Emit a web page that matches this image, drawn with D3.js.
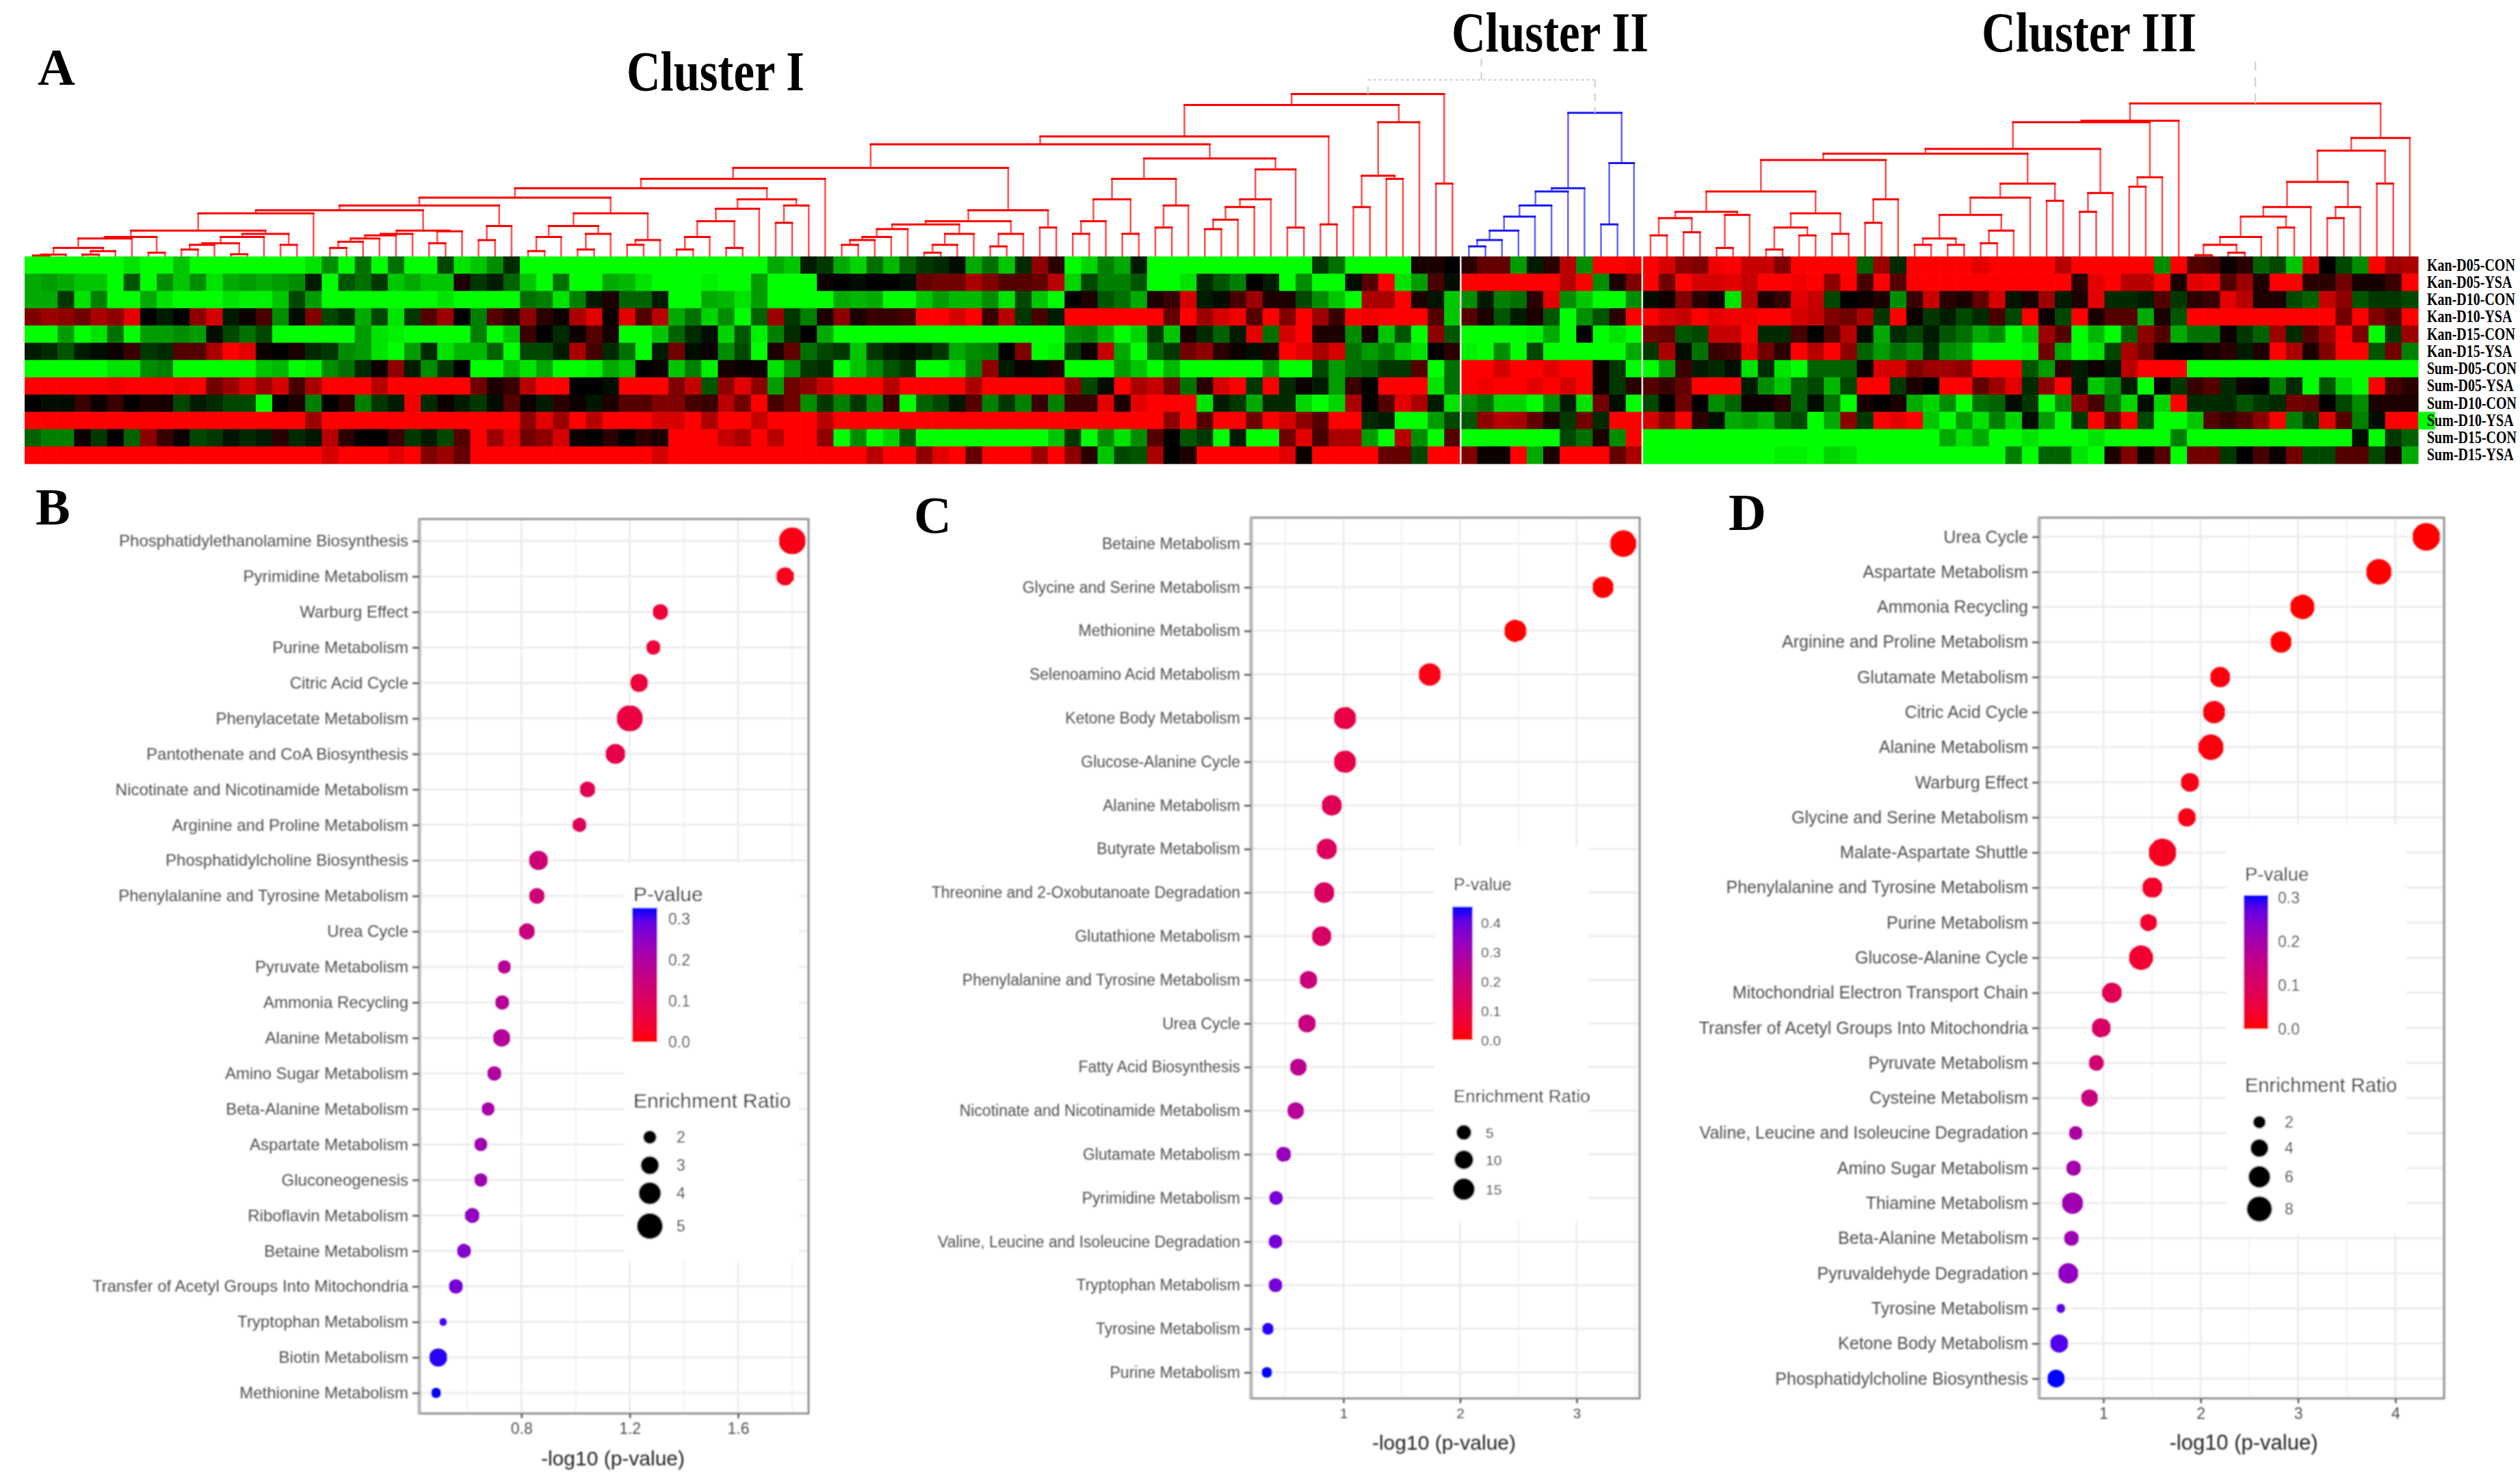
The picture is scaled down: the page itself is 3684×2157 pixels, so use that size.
<!DOCTYPE html>
<html><head><meta charset="utf-8">
<script src="https://cdnjs.cloudflare.com/ajax/libs/d3/7.8.5/d3.min.js"></script>
<style>html,body{margin:0;padding:0;background:#fff}svg{display:block}</style>
</head><body>
<script>
// ---------- heat map values (negative = green, positive = red)
const rowLabels=["Kan-D05-CON","Kan-D05-YSA","Kan-D10-CON","Kan-D10-YSA","Kan-D15-CON","Kan-D15-YSA","Sum-D05-CON","Sum-D05-YSA","Sum-D10-CON","Sum-D10-YSA","Sum-D15-CON","Sum-D15-YSA"];
const kanD05Con=[-9,-9,-9,-9,-9,-9,-8,-9,-9,-7,-9,-9,-9,-9,-9,-9,-9,-8,-5,-9,-4,-9,-4,-9,-9,-2.5,-8,-7,-5,-1.5,-9,-9,-9,-9,-9,-9,
-9,-9,-9,-9,-9,-9,-9,-9,-9,-6,-7,-1,-2,-6,-7.5,-4,-6.5,-3.5,-2,-1.5,-.5,-6,-4,-7,-1.5,5,1.5,-9,-7.5,-4.5,-6,-1,-9,-9,-9,-9,-9,-9,
-9,-9,-9,-9,-2,-4,-9,-9,-9,-9,.7,1,0,1.5,3.5,3.5,-5.5,-1,1.5,6.5,-5,9,9,8.5,9,7.5,5,4.5,8.5,9,7,7,4.5,9,9,9,9,
-3.5,5.5,-1.5,9,9,9,9,8,9,9,9,9,6.5,9,9,9,9,9,-5,9,3,2.5,.3,1.5,-3.5,-2.5,-7,8,0,-2.5,-5,9,5.5,6];
const kanD05Ysa=[-6,-5.5,-6,-7,-7,-9,-3,-9,-5,-7,-5,-8,-6,-5.5,-6,-5.5,-5,-1,-9,-3,-4,-2,-7,-6,-7,-7,1,-2,-1,-3.5,-7,-9,-4,-9,-9,-6,
-6.5,-8,-9,-9,-9,-8.5,-9,-9,-5.5,-9,-9,-9,.3,0,-.3,0,0,-.3,3.5,4,4,6,4.5,3,3,3.5,6.5,-7.5,-2.5,-4.5,-4.5,-3,-9,-9,-8,-1.5,-3,-4.5,
0,-1,-9,-5,-9,-9,-.3,3,9,-8,-5.5,2.5,-.5,9,9,9,9,9,9,6.5,9,-5,1,4.5,9,4,9,7.5,7.5,8,7,9,9,8.5,9,5,9,
2.5,9,3,9,9,9,9,9,9,9,9,9,9,1.5,8,9,6.5,6.5,9,1,8,8.5,3,5.5,1,9,9,1.5,1.5,4,.7,.7,2,9];
const kanD10Con=[-6,-6,-2,-8,-4.5,-9,-9,-6,-8,-9,-9,-9,-8,-8.5,-8.5,-7,-2.5,-5.5,-9,-9,-9,-9,-9,-9,-9,-8,-9,-9,-9,-9,-4,-4.5,-8,-4.5,-1,1,
-3.5,-3.5,-1,-9,-9,-6,-6.5,-8,-5.5,-9,-9,-9,-9,-6,-6.5,-6,-9,-9,-7,-5.5,-6.5,-6.5,-5,-8,-2.5,-7,-9,0,1,-3,-4,-6,1,2,7.5,-1,-.3,2.5,
5.5,1,1,-2.5,-5,-7,-9,6,6,9,1,-.7,-7,-5,-1,-4.5,-4,1.5,8,-5,-7,-9,-9,-5,-.5,.5,4.5,1.5,.5,-8,6.5,1,2,8,7,-2.5,0,
.5,1,-5,2,7,1.5,1,3.5,7.5,-.7,.7,5.5,-1,1,8,-1.5,-1.5,-1,3,-2,1.5,2,8,6.5,1,1,-2.5,-3.5,7,5,-3,-2,-2,-2.5];
const kanD10Ysa=[4.5,5.5,5,4,6,5,8,0,-1,0,5,7.5,-1,.5,2.5,-5,-.5,4.5,-2.5,-1.5,-6,-2.5,-8,-2,3,5.5,0,-4.5,3,1.5,5,1.5,.3,6,8,.5,
8,3,6.5,-6,-4,-7.5,-5,-9,-3.5,5.5,-2,-4.5,1,5,1,2,2,2.5,9,9,7.5,9,2,6.5,-2,2.5,-1,9,9,9,9,9,9,3.5,9,5.5,7.5,8.5,
3,9,4.5,9,5.5,2,9,8.5,9,9,9,3,-7,3,1,-3,-1,1,-3,-9,-5,-3,1.5,9,9,7.5,7,9,8,8.5,8.5,9,9,7.5,7,4.5,4,
6,-2,9,.3,-2,-1,-2.5,-1.5,2.5,-2.5,9,.5,-2.5,9,1,3,3,-6,1,-3,9,9,9,9,9,9,9,9,9,4,9,4.5,3,9];
const kanD15Con=[-9,-9,-5.5,-9,-8,-4,-9,-5.5,-5.5,-5,-5.5,-.5,-2.5,-4,-2.5,-9,-9,-9,-9,-9,-5.5,-8,-8.5,-9,-9,-9,-9,-4.5,-9,-7,2,-.2,-1.5,.5,3,.7,
-9,-9,-7,-3.5,-1.5,-.3,-7.5,-3,-8.5,-4.5,-1.5,0,-6,-9,-9,-9,-9,-9,-9,-9,-9,-9,-9,-9,-9,-9,-9,-5,-4.5,-6.5,-9,-7.5,-2,-7,.7,-1.5,-3.5,-1,
8,-4,7.5,9,1,1,-5,.7,-7,-3,-9,5,-3,-9,-9,-9,-9,-8.5,-6,-9,0,-9,-8,-9,4,3.5,-3,-2.5,7,7,9,-1.5,-1.5,2.5,0,3,6.5,
-.3,-6,-1.5,-2.5,-1,-3,-4,-6,-5,-9,-7,5.5,3,-9,-6.5,-9,-3.5,5,3,-6,-4,-4,.3,-2,-3.5,5.5,-1.5,3,5.5,9,4.5,-9,-2,5.5];
const kanD15Ysa=[-1,-1.5,-3,-1,-.5,.5,2,-2,-1.5,3,3,6,9,8,.5,0,1,-1.5,-2,-5,-5.5,-8,-9,-5.5,-1.5,-8,-6.5,-6.5,-3.5,-9,-2.5,-2.5,-1,6,2.5,-1.5,
-4,-9,-1,4,-.5,.3,-5,-2.5,-9,1,3.5,-4,-2.5,-2,-7,-2,-1,-.3,-1,-2,-6,-5,-4.5,0,4.5,-9,-8.5,-2,.3,7,-6,-9,-3.5,-2,4,5,1.5,.5,
-.3,1,9,8,6,7.5,-4,-5.5,-4.5,-7,-8,0,1.5,-8.5,-9,-5,-9,-2.5,-9,-9,-9,-9,-9,-6,-2,6,-.5,-4,2,2.5,8,4,1.5,9,6.5,9,5,
-3.5,-5.5,-4,-5,-1.5,-5,-5.5,-9,-9,-9,-8.5,4,-6,-9,-8,-2.5,6,4,.5,0,0,1,1.5,-1,1,9,6,1,4.5,9,9,-3,4,-4.5];
const sumD05Con=[-9,-9,-9,-9,-9,-8,-8,-5,-4.5,-9,-9,-9,-9,-9,-7,-6.5,-9,-8.5,-5,-4,-1.5,.5,5,-1,-5,-2,0,-9,-9,-6.5,-8,-6,-9,-9,-8.5,-6,
-7,.2,.5,-7,-4.5,-8.5,.7,.3,.5,-8,-5,-2,-1.5,-9,-7,-5,-3,-2,-9,-9,-8,-4.5,5,-1,.3,-.3,1,-9,-9,-9,-5.5,-7,-9,-6.5,-9,-9,-9,-9,
-9,-5.5,-9,-9,-2.5,-5.5,-4,-3.5,-2,-2,3,-9,-4,9,9,7.5,9,9,8,9,9,.5,-2,-9,-9,-5.5,2,-1,-1.5,-.5,-8,-1.5,-8,-9,-3.5,-3.5,-3.5,
.3,7.5,7.5,4.5,5.5,5.5,5,9,9,9,-3,-5.5,1.5,-1,.3,-.7,6.5,9,9,9,-9,-9,-9,-9,-9,-9,-9,-9,-9,-9,-9,-9,-9,-9];
const sumD05Ysa=[9,9,9,9,9,8.5,9,9,9,8.5,9,4,5.5,7.5,5.5,7.5,2.5,6,9,9,9,6.5,9,9,9,9,9,4,1,2,6.5,9,9,0,0,-.3,
9,9,9,4.5,7,-3,5,8,5,-5.5,4,5,7,9,9,9,6.5,9,9,9,9,6,9,9,9,9,9,5,-2.5,-.5,9,6,7,4,-4,1.5,7.5,9,
-2,9,-1.5,.3,-1,-5.5,2,0,9,9,9,-8,-4,9,8.5,9,9,8,9,7.5,9,.5,-2,1.5,3,2,3.5,9,9,9,-1,-5,-7,-3.5,-2.5,-6.5,-2.5,
9,9,-2,1,0,9,9,3.5,5.5,8,-1.5,5,9,-.7,-7,-5,-1,-9,0,-2,2,3,-1.5,.3,0,-4.5,-1.5,-9,-3,-7.5,-9,9,2.5,1.5];
const sumD10Con=[0,-.3,-.3,2,.5,2,0,1,.7,-2.5,-1,-1.5,-2.5,-2.5,-9,0,1,-4.5,0,1.5,-4.5,-2,-1,8.5,-1.5,.5,-1,-2,-.5,3,.5,-1,1.5,.5,-.7,1,
3,3,4.5,4.5,2.5,2,6.5,4,9,2.5,4,-5,-2,-4.5,-2,-5,2,-9,-3.5,-2.5,-.7,3,-4.5,-2,-4.5,2,-4.5,2,2,8,1,8,9,9,9,-8,-1,-2,
-6,-1.5,-1.5,-7.5,-9,-7.5,6,0,3,8,6,-1,-8,-5,-4,-7.5,-7.5,-9,-5,-1,-8,4,-.5,-9,-2.5,0,4,0,-5,-3.5,.5,.5,1.5,-3.5,-.5,-4,-9,
.7,0,.7,-6,-7.5,-5,-9,-4,-3.5,-.5,-2,-9,-5,5,2.5,-4,-7.5,-.5,-7.5,9,-1.5,-1.5,-1.5,-3,-2,-1.5,4,3.5,0,-2.5,-5,1,1,1];
const sumD10Ysa=[9,9,9,9,9,9,9,9,9,9,9,9,9,9,9,9,9,5.5,9,9,9,9,9,9,9,9,9,9,9,9,5,8,5.5,9,6.5,9,
9,9,7.5,7.5,9,6,9,9,7,9,9,9,6.5,9,9,9,9,9,9,9,9,9,9,9,9,9,9,9,9,9,9,9,9,5,9,3,9,9,4,
9,7.5,5,3,9,9,-1.5,-1,-9,-9,-5.5,-2.5,-3,5,6.5,6,3.5,1,-2,4,-1.5,9,9,7.5,5,9,1.5,-.5,-6,-5.5,-6.5,-3.5,-2.5,-9,-6,5,-2,
9,8,9,-7,-9,-5.5,-8,-4.5,-7.5,-.3,-5.5,-9,-2,9,3.5,9,-2.5,-9,-9,-7,3,2,3,5,9,-4.5,-2,8,3,-4.5,-.3,9,9,-9];
const sumD15Con=[-3.5,-4.5,-4.5,.5,-2,0,-3.5,5,2,.5,-2.5,-2,-.7,-1.5,-1,1.5,-1.5,-.7,6.5,1.5,0,0,2,-2,-1,-2.5,3,9,5.5,8,4,5,7.5,.5,0,1.5,
0,1.5,1,9,9,9,7,6,9,6.5,9,9,5,-9,-5,-9,-7.5,-3,-9,-9,-9,-9,-9,-9,-9,-9,-7,-2,-9,-5,-8,-5,3,0,-3,-2,-9,-1,
-9,-9,4,8,2.5,6,6,-5.5,-9,6.5,-5,-9,3,-9,-9,-9,-9,-9,-9,-2.5,-4,1,-5,9,-9,-9,-9,-9,-9,-9,-9,-9,-9,-9,-9,-9,-9,
-9,-9,-9,-9,-9,-6,-8,-6,-9,-9,-8,-9,-9,-9,-8,-9,-9,-9,-9,-4.5,-9,-9,-9,-9,-9,-9,-9,-9,-9,-9,-.3,-9,-2,-3.5];
const sumD15Ysa=[9,9,9,9,9,9,9,9,9,9,9,9,9,9,9,9,9,9,7.5,9,9,9,8,9,4.5,5.5,3.5,9,9,9,9,9,9,9,9,9,
9,9,7.5,9,9,9,9,9,9,9,9,9,9,9,9,6.5,9,9,5,8,9,3.5,9,9,9,5.5,9,5,1.5,-7,-2.5,-3,6,0,1,9,9,9,
9,9,8,.3,9,9,9,9,3.5,3.5,-2.5,9,9,4.5,.5,.5,9,-6,1,9,9,9,3.5,6,-9,-9,-9,-9,-9,-9,-9,-9,-8.5,-8.5,-9,-7.5,-8,
-9,-9,-9,-9,-9,-9,-9,-9,-9,-4.5,-9,-3.5,-3.5,-8,-9,1,4.5,.3,3,-9,4,4,-2,0,2.5,.3,4,-2.5,-2.5,3,3,-2.5,1,-6];
const heatRows=[kanD05Con,kanD05Ysa,kanD10Con,kanD10Ysa,kanD15Con,kanD15Ysa,sumD05Con,sumD05Ysa,sumD10Con,sumD10Ysa,sumD15Con,sumD15Ysa];

// ---------- dendrograms: [merge level, left, right]; a plain number is a leaf (column index)
const clusterI=[297,[332,[432,[457,[532,[567,[597,[627,[652,[667,[677,[732,[752,[757,[787,[808,[811,0,1],2],[797,[808,3,4],5]],6],[802,7,8]],[742,[752,[772,[777,[792,9,10],11],[807,12,13]],14],[777,15,16]]],17],[732,[742,[747,[757,[767,[787,18,19],20],21],22],23],[734,[772,24,25],26]]],[717,[762,27,28],29]],[677,[717,[752,[797,30,31],32],[742,[792,33,34],35]],[762,[777,36,37],38]]],[632,[662,[702,[752,[792,39,40],41],[787,42,43]],44],[652,[707,45,46],47]]],48],[667,[702,[712,[727,[752,[762,[777,49,50],51],52],53],[742,[777,[802,54,55],56],57]],[742,[782,58,59],60]],[722,61,62]]],[502,[567,[632,[702,[742,63,64],65],[742,66,67]],[652,[722,68,69],70]],[537,[632,[657,[697,[727,71,72],73],74],75],[722,76,77]]]],[712,78,79]],[387,[557,[657,80,81],[567,82,83]],84]],[582,85,86]];
const clusterII=[357,[597,[607,[652,[687,[732,[762,[782,87,88],89],90],91],92],93],94],[517,[712,95,96],97]];
const clusterIII=[327,[382,[387,[472,[487,[507,[607,[672,[692,[747,98,99],[737,100,101]],[682,[787,102,103],104]],[677,[722,[792,105,106],[747,107,108]],[742,109,110]]],[632,[707,111,112],113]],[582,[627,[682,[757,[777,114,115],[777,116,117]],[732,[772,118,119],120]],121],[637,122,123]]],[612,[672,124,125],126]],[562,[592,127,128],129]],130],[437,[477,[577,[657,[687,[752,[777,[810,131,132],[802,133,134]],135],[722,136,137]],138],[657,[692,139,140],141]],[582,142,143]],144]];

// ---------- panel B
const bNames=["Phosphatidylethanolamine Biosynthesis","Pyrimidine Metabolism","Warburg Effect","Purine Metabolism","Citric Acid Cycle","Phenylacetate Metabolism","Pantothenate and CoA Biosynthesis","Nicotinate and Nicotinamide Metabolism","Arginine and Proline Metabolism","Phosphatidylcholine Biosynthesis","Phenylalanine and Tyrosine Metabolism","Urea Cycle","Pyruvate Metabolism","Ammonia Recycling","Alanine Metabolism","Amino Sugar Metabolism","Beta-Alanine Metabolism","Aspartate Metabolism","Gluconeogenesis","Riboflavin Metabolism","Betaine Metabolism","Transfer of Acetyl Groups Into Mitochondria","Tryptophan Metabolism","Biotin Metabolism","Methionine Metabolism"];
const bLogP=[1.80,1.774,1.313,1.287,1.234,1.2,1.147,1.044,1.014,.863,.857,.82,.737,.729,.727,.70,.677,.65,.65,.618,.588,.558,.511,.493,.485];
const bRatio=[5.26,2.96,2.45,2.2,2.96,5.07,3.39,2.45,2.2,3.24,2.45,2.55,2,2.2,2.83,2.2,2,2,2,2.3,2.2,2.2,1.1,2.96,1.45];
// ---------- panel C
const cNames=["Betaine Metabolism","Glycine and Serine Metabolism","Methionine Metabolism","Selenoamino Acid Metabolism","Ketone Body Metabolism","Glucose-Alanine Cycle","Alanine Metabolism","Butyrate Metabolism","Threonine and 2-Oxobutanoate Degradation","Glutathione Metabolism","Phenylalanine and Tyrosine Metabolism","Urea Cycle","Fatty Acid Biosynthesis","Nicotinate and Nicotinamide Metabolism","Glutamate Metabolism","Pyrimidine Metabolism","Valine, Leucine and Isoleucine Degradation","Tryptophan Metabolism","Tyrosine Metabolism","Purine Metabolism"];
const cLogP=[3.40,3.226,2.474,1.74,1.013,1.013,.90,.857,.835,.813,.70,.687,.613,.59,.487,.422,.417,.417,.352,.343];
const cRatio=[25,14.1,15.9,15.9,15.9,15.9,12.6,12.6,12.6,11.2,8.4,8.4,7.1,7.1,5,3.9,3.9,3.9,2.1,1.4];
// ---------- panel D
const dNames=["Urea Cycle","Aspartate Metabolism","Ammonia Recycling","Arginine and Proline Metabolism","Glutamate Metabolism","Citric Acid Cycle","Alanine Metabolism","Warburg Effect","Glycine and Serine Metabolism","Malate-Aspartate Shuttle","Phenylalanine and Tyrosine Metabolism","Purine Metabolism","Glucose-Alanine Cycle","Mitochondrial Electron Transport Chain","Transfer of Acetyl Groups Into Mitochondria","Pyruvate Metabolism","Cysteine Metabolism","Valine, Leucine and Isoleucine Degradation","Amino Sugar Metabolism","Thiamine Metabolism","Beta-Alanine Metabolism","Pyruvaldehyde Degradation","Tyrosine Metabolism","Ketone Body Metabolism","Phosphatidylcholine Biosynthesis"];
const dLogP=[4.317,3.83,3.044,2.825,2.2,2.137,2.104,1.89,1.858,1.607,1.503,1.464,1.388,1.087,.978,.929,.858,.716,.694,.683,.672,.639,.563,.546,.514];
const dRatio=[9.55,8.14,7.48,5.65,5.1,6.23,8.14,4.33,4.08,9.55,5.1,3.62,7.48,5.1,4.58,2.97,3.62,2.39,2.77,5.65,2.77,5.1,1.02,4.08,3.85];

const W=3684,H=2157;
const svg=d3.select("body").append("svg").attr("width",W).attr("height",H).attr("viewBox",`0 0 ${W} ${H}`);
svg.append("rect").attr("width",W).attr("height",H).attr("fill","#fff");
const defs=svg.append("defs");
[["soft",0.9],["softer",1.3],["hm",0.5]].forEach(([id,s])=>defs.append("filter").attr("id",id).attr("x","-5%").attr("y","-5%").attr("width","110%").attr("height","110%").append("feGaussianBlur").attr("stdDeviation",s));

// ---------- heat map
const nCols=145;
const hx=d3.scaleLinear().domain([0,nCols]).range([36,3535]);
const hy=d3.scaleBand().domain(rowLabels).range([375,678]);
const hc=d3.scaleLinear().domain([-9,0,9]).range(["#00ff00","#000000","#ff0000"]).clamp(true);
const gHeat=svg.append("g").attr("filter","url(#hm)");
rowLabels.forEach((lab,r)=>{
  gHeat.append("g").selectAll("rect").data(heatRows[r]).join("rect")
   .attr("x",(d,i)=>hx(i)).attr("y",hy(lab)).attr("width",(d,i)=>hx(i+1)-hx(i)+.6).attr("height",hy.bandwidth()+.6).attr("fill",d=>hc(d));
});
const clusterStarts=[87,98];
svg.append("g").selectAll("line").data(clusterStarts).join("line")
 .attr("x1",d=>hx(d)).attr("x2",d=>hx(d)).attr("y1",375).attr("y2",678).attr("stroke","#f0f0f0").attr("stroke-width",2.5);
// row labels: a condensed-looking serif, stretched vertically as in the reference
svg.append("g").selectAll("text").data(rowLabels).join("text")
 .attr("transform",d=>`translate(3548,${hy(d)+hy.bandwidth()/2+8}) scale(1,1.22)`).text(d=>d)
 .attr("font-family","Liberation Serif").attr("font-weight","bold").attr("font-size",20).attr("fill","#000");

// ---------- dendrograms
const dy=d3.scaleLinear().domain([814,0]).range([375,1]);
const leafX=i=>hx(i+.5);
function layout(n){ if(typeof n==="number") return {x:leafX(n),lvl:814};
  const a=layout(n[1]),b=layout(n[2]); return {x:(a.x+b.x)/2,lvl:n[0],a,b}; }
function collect(n,out){ if(!n.a) return out; out.h.push([n.a.x,n.b.x,n.lvl]); out.v.push([n.a.x,n.lvl,n.a.lvl],[n.b.x,n.lvl,n.b.lvl]); collect(n.a,out); collect(n.b,out); return out; }
function drawTree(root,col,light){
  const o=collect(root,{h:[],v:[]});
  const g=svg.append("g");
  g.selectAll(".v").data(o.v).join("line").attr("x1",d=>d[0]).attr("x2",d=>d[0]).attr("y1",d=>dy(d[1])).attr("y2",d=>dy(d[2])).attr("stroke",light).attr("stroke-width",2.6);
  g.selectAll(".h").data(o.h).join("line").attr("x1",d=>d[0]-1.3).attr("x2",d=>d[1]+1.3).attr("y1",d=>dy(d[2])).attr("y2",d=>dy(d[2])).attr("stroke",col).attr("stroke-width",3);
}
const rI=layout(clusterI),rII=layout(clusterII),rIII=layout(clusterIII);
drawTree(rI,"#ff0000","#ff5555");drawTree(rII,"#1a1aff","#6a6aff");drawTree(rIII,"#ff0000","#ff5555");
// dashed connectors
const bridgeLevel=252,stemTopII=185,stemTopIII=195;
const midII=(rI.x+rII.x)/2;
const dash=svg.append("g").attr("stroke","#d4d4d4").attr("stroke-width",2.4).attr("fill","none");
dash.append("path").attr("stroke-dasharray","11,9").attr("d",`M${rI.x},${dy(clusterI[0])}V${dy(bridgeLevel)}`);
dash.append("path").attr("stroke-dasharray","11,9").attr("d",`M${rII.x},${dy(bridgeLevel)}V${dy(clusterII[0])}`);
dash.append("path").attr("stroke-dasharray","4,4").attr("d",`M${rI.x},${dy(bridgeLevel)}H${rII.x}`);
dash.append("path").attr("stroke-dasharray","11,9").attr("d",`M${midII},${dy(bridgeLevel)}V${dy(stemTopII)}`);
dash.append("path").attr("stroke-dasharray","14,10").attr("d",`M${rIII.x},${dy(clusterIII[0])}V${dy(stemTopIII)}`);

// ---------- headline texts
const headlines=[{t:"Cluster I",x:916,y:132,w:260,s:82},{t:"Cluster II",x:2122,y:75,w:288,s:82},{t:"Cluster III",x:2897,y:75,w:314,s:82}];
svg.append("g").selectAll("text").data(headlines).join("text").attr("x",d=>d.x).attr("y",d=>d.y).text(d=>d.t)
 .attr("font-family","Liberation Serif").attr("font-weight","bold").attr("font-size",d=>d.s).attr("textLength",d=>d.w).attr("lengthAdjust","spacingAndGlyphs");
const panelLetters=[{t:"A",x:55,y:124},{t:"B",x:52,y:767},{t:"C",x:1336,y:779},{t:"D",x:2527,y:775}];
svg.append("g").selectAll("text").data(panelLetters).join("text").attr("x",d=>d.x).attr("y",d=>d.y).text(d=>d.t)
 .attr("font-family","Liberation Serif").attr("font-weight","bold").attr("font-size",76);

// ---------- dot plots
function panel(c){
  const g=svg.append("g").attr("filter",`url(#${c.blur})`).attr("font-family","Liberation Sans");
  const x=d3.scaleLinear().domain(c.xDom).range([c.l,c.r]);
  const y=d3.scalePoint().domain(c.names).range([c.y0,c.y1]);
  const size=d3.scaleSqrt().domain(c.sizeDom).range([0,c.sizeR]);
  const pMax=Math.pow(10,-d3.min(c.logP));
  const col=d3.scaleLinear().domain([0,pMax]).range(["#ff0000","#0000ff"]).interpolate(d3.interpolateLab);
  // grid
  g.append("g").selectAll("line").data(c.minor).join("line").attr("x1",d=>x(d)).attr("x2",d=>x(d)).attr("y1",c.t).attr("y2",c.b).attr("stroke","#f3f3f3").attr("stroke-width",2.2);
  g.append("g").selectAll("line").data(c.ticks).join("line").attr("x1",d=>x(d)).attr("x2",d=>x(d)).attr("y1",c.t).attr("y2",c.b).attr("stroke","#ececec").attr("stroke-width",3);
  g.append("g").selectAll("line").data(c.names).join("line").attr("x1",c.l).attr("x2",c.r).attr("y1",d=>y(d)).attr("y2",d=>y(d)).attr("stroke","#ececec").attr("stroke-width",3);
  // legend backing
  g.append("rect").attr("x",c.box[0]).attr("y",c.box[1]).attr("width",c.box[2]-c.box[0]).attr("height",c.box[3]-c.box[1]).attr("fill","#fff");
  // dots
  g.append("g").selectAll("circle").data(c.names).join("circle").attr("cx",(d,i)=>x(c.logP[i])).attr("cy",d=>y(d)).attr("r",(d,i)=>size(c.ratio[i])).attr("fill",(d,i)=>col(Math.pow(10,-c.logP[i])));
  // frame
  g.append("rect").attr("x",c.l).attr("y",c.t).attr("width",c.r-c.l).attr("height",c.b-c.t).attr("fill","none").attr("stroke","#8f8f8f").attr("stroke-width",3);
  g.append("line").attr("x1",c.l).attr("x2",c.l).attr("y1",c.t).attr("y2",c.b).attr("stroke","#b5b5b5").attr("stroke-width",5);
  // axes
  const ax=g.append("g").attr("transform",`translate(0,${c.b})`).call(d3.axisBottom(x).tickValues(c.ticks).tickSize(7).tickPadding(7).tickFormat(c.fmt));
  const ay=g.append("g").attr("transform",`translate(${c.l},0)`).call(d3.axisLeft(y).tickSize(10).tickPadding(6));
  [ax,ay].forEach(a=>{a.select(".domain").remove();a.selectAll("line").attr("stroke","#555").attr("stroke-width",2.5);a.selectAll("text").attr("fill","#4d4d4d").attr("font-family","Liberation Sans");});
  ay.selectAll("text").attr("font-size",c.fs);
  ax.selectAll("text").attr("font-size",c.tickFs);
  g.append("text").attr("x",c.xt).attr("y",c.yt).attr("text-anchor","middle").attr("font-size",c.xtFs).attr("fill","#222").text("-log10 (p-value)");
  // colour legend
  const L=c.leg;
  g.append("text").attr("x",L.x).attr("y",L.pTitleY).attr("font-size",L.pFs).attr("fill","#111").text("P-value");
  const ly=d3.scaleLinear().domain([0,L.pTick]).range([L.bar0,L.barT]);
  const gid="grad"+c.id;
  const lg=defs.append("linearGradient").attr("id",gid).attr("x1",0).attr("x2",0).attr("y1",1).attr("y2",0);
  d3.range(0,1.001,.1).forEach(t=>lg.append("stop").attr("offset",t).attr("stop-color",col(t*pMax)));
  g.append("rect").attr("x",L.x-2).attr("width",L.barW).attr("y",ly(pMax)).attr("height",ly(0)-ly(pMax)).attr("fill",`url(#${gid})`);
  g.append("g").selectAll("text").data(L.pTicks).join("text").attr("x",L.x-2+L.barW+L.pad).attr("y",d=>ly(d)+8).attr("font-size",c.tickFs).attr("fill","#222").text(d=>d.toFixed(1));
  g.append("text").attr("x",L.x).attr("y",L.rTitleY).attr("font-size",L.rFs).attr("fill","#111").text("Enrichment Ratio");
  g.append("g").selectAll("circle").data(L.rVals).join("circle").attr("cx",L.dotX).attr("cy",(d,i)=>L.rYs[i]).attr("r",d=>size(d)).attr("fill","#000");
  g.append("g").selectAll("text").data(L.rVals).join("text").attr("x",L.rLabX).attr("y",(d,i)=>L.rYs[i]+8).attr("font-size",c.tickFs).attr("fill","#222").text(d=>d);
}
panel({id:"B",blur:"soft",names:bNames,logP:bLogP,ratio:bRatio,l:613,r:1182,t:759,b:2067,y0:791,y1:2037,xDom:[.423,1.86],
 ticks:[.8,1.2,1.6],minor:[.6,1,1.4,1.8],fmt:d3.format(".1f"),sizeDom:[.3,5.2],sizeR:19.5,fs:24,tickFs:23,xtFs:30,xt:896,yt:2143,box:[912,1262,1168,1844],
 leg:{x:926,pTitleY:1318,pFs:30,rFs:30,bar0:1524,barT:1344,pTick:.3,barW:37,pad:16,pTicks:[0,.1,.2,.3],rTitleY:1620,dotX:950,rVals:[2,3,4,5],rYs:[1663,1704,1745,1793],rLabX:989}});
panel({id:"C",blur:"softer",names:cNames,logP:cLogP,ratio:cRatio,l:1829,r:2397,t:757,b:2045,y0:795,y1:2007,xDom:[.208,3.54],
 ticks:[1,2,3],minor:[.5,1.5,2.5,3.5],fmt:d3.format("d"),sizeDom:[-1.9,20],sizeR:17.8,fs:23,tickFs:21,xtFs:30,xt:2111,yt:2120,box:[2097,1238,2322,1786],
 leg:{x:2125,pTitleY:1302,pFs:25,rFs:26,bar0:1521,barT:1349,pTick:.4,barW:30,pad:12,pTicks:[0,.1,.2,.3,.4],rTitleY:1612,dotX:2140,rVals:[5,10,15],rYs:[1656,1696,1739],rLabX:2172}});
panel({id:"D",blur:"soft",names:dNames,logP:dLogP,ratio:dRatio,l:2981,r:3573,t:757,b:2045,y0:785,y1:2016,xDom:[.34,4.5],
 ticks:[1,2,3,4],minor:[1.5,2.5,3.5],fmt:d3.format("d"),sizeDom:[0,9],sizeR:19.7,fs:25,tickFs:23,xtFs:31,xt:3280,yt:2120,box:[3255,1206,3518,1805],
 leg:{x:3282,pTitleY:1288,pFs:27.5,rFs:29,bar0:1505,barT:1313,pTick:.3,barW:36,pad:14,pTicks:[0,.1,.2,.3],rTitleY:1597,dotX:3303,rVals:[2,4,6,8],rYs:[1641,1679,1721,1768],rLabX:3340}});
</script>
</body></html>
